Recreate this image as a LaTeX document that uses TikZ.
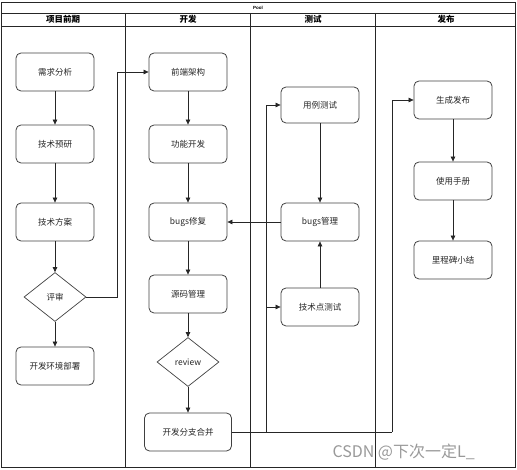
\documentclass[tikz,border=0pt]{standalone}
\usepackage{fontspec}
\setmainfont{Liberation Sans}
\newfontfamily\cjk{Noto Sans CJK SC}
\usetikzlibrary{shapes.geometric,arrows.meta}
\tikzset{
  frameline/.style={draw=black!85, line width=0.8pt},
  box/.style={draw=black!75, line width=0.8pt, rounded corners=5pt, minimum width=78pt, minimum height=38pt, inner sep=0pt, font=\cjk\fontsize{8.5}{10}\selectfont, text=black!85},
  dia/.style={draw=black!75, line width=0.7pt, shape=diamond, minimum width=62pt, minimum height=49pt, inner sep=0pt, font=\cjk\fontsize{8.5}{10}\selectfont, text=black!85},
  arr/.style={draw=black!85, line width=0.7pt, -{Triangle[length=5pt,width=4.5pt]}},
  ln/.style={draw=black!85, line width=0.7pt},
  head/.style={font=\cjk\bfseries\fontsize{8.5}{10}\selectfont},
}
\begin{document}
\begin{tikzpicture}[x=1pt,y=-1pt]
\useasboundingbox (0,0) rectangle (517,470);
% frame
\draw[frameline] (1,2) rectangle (515,467);
\draw[frameline] (1,13) -- (515,13);
\draw[frameline] (1,26) -- (515,26);
\foreach \x in {125,250,375} \draw[frameline] (\x,13) -- (\x,467);
\node[font=\bfseries\fontsize{4.5}{5}\selectfont] (pool) at (258,7.5) {Pool};
\node[head] (h1) at (63,19.5) {项目前期};
\node[head] (h2) at (188,19.5) {开发};
\node[head] (h3) at (313,19.5) {测试};
\node[head] (h4) at (446,19.5) {发布};
% lane 1
\node[box] (xqfx) at (55,72) {需求分析};
\node[box] (jsyy) at (55,144) {技术预研};
\node[box] (jsfa) at (55,222) {技术方案};
\node[dia] (ps) at (55,297) {评审};
\node[box] (kfhj) at (55,366) {开发环境部署};
% lane 2
\node[box] (qdjg) at (188,72) {前端架构};
\node[box] (gnkf) at (188,144) {功能开发};
\node[box] (bfx) at (188,222) {bugs修复};
\node[box] (ymgl) at (188,294) {源码管理};
\node[dia] (rv) at (188,362) {review};
\node[box, minimum width=87pt] (hb) at (188,432) {开发分支合并};
% lane 3
\node[box, minimum height=36pt] (ylcs) at (320,105) {用例测试};
\node[box] (bgl) at (320,222) {bugs管理};
\node[box] (jdcs) at (320,307) {技术点测试};
% lane 4
\node[box] (scfb) at (453,100) {生成发布};
\node[box] (syc) at (453,181) {使用手册};
\node[box] (lcb) at (453,260) {里程碑小结};
% edges lane 1
\draw[arr] (xqfx) -- (jsyy);
\draw[arr] (jsyy) -- (jsfa);
\draw[arr] (jsfa) -- (ps);
\draw[arr] (ps) -- (kfhj);
\coordinate (c1) at (117,297);
\draw[arr] (ps.east) -- (c1) |- (qdjg.west);
% lane 2
\draw[arr] (qdjg) -- (gnkf);
\draw[arr] (gnkf) -- (bfx);
\draw[arr] (bfx) -- (ymgl);
\draw[arr] (ymgl) -- (rv);
\draw[arr] (rv) -- (hb);
% lane 3
\draw[arr] (ylcs) -- (bgl);
\draw[arr] (jdcs) -- (bgl);
\draw[arr] (bgl.west) -- (bfx.east);
% lane 4
\draw[arr] (scfb) -- (syc);
\draw[arr] (syc) -- (lcb);
% merge branches
\coordinate (m1) at (266,432);
\coordinate (m2) at (392,432);
\draw[ln] (hb.east) -- (m2);
\draw[arr] (m1) |- (ylcs.west);
\draw[arr] (m1) |- (jdcs.west);
\draw[arr] (m2) |- (scfb.west);
% watermark
\node[anchor=west, text=black!40, font=\cjk\fontsize{16}{18}\selectfont] (wm) at (329,452) {CSDN @下次一定L\_};
\end{tikzpicture}
\end{document}
